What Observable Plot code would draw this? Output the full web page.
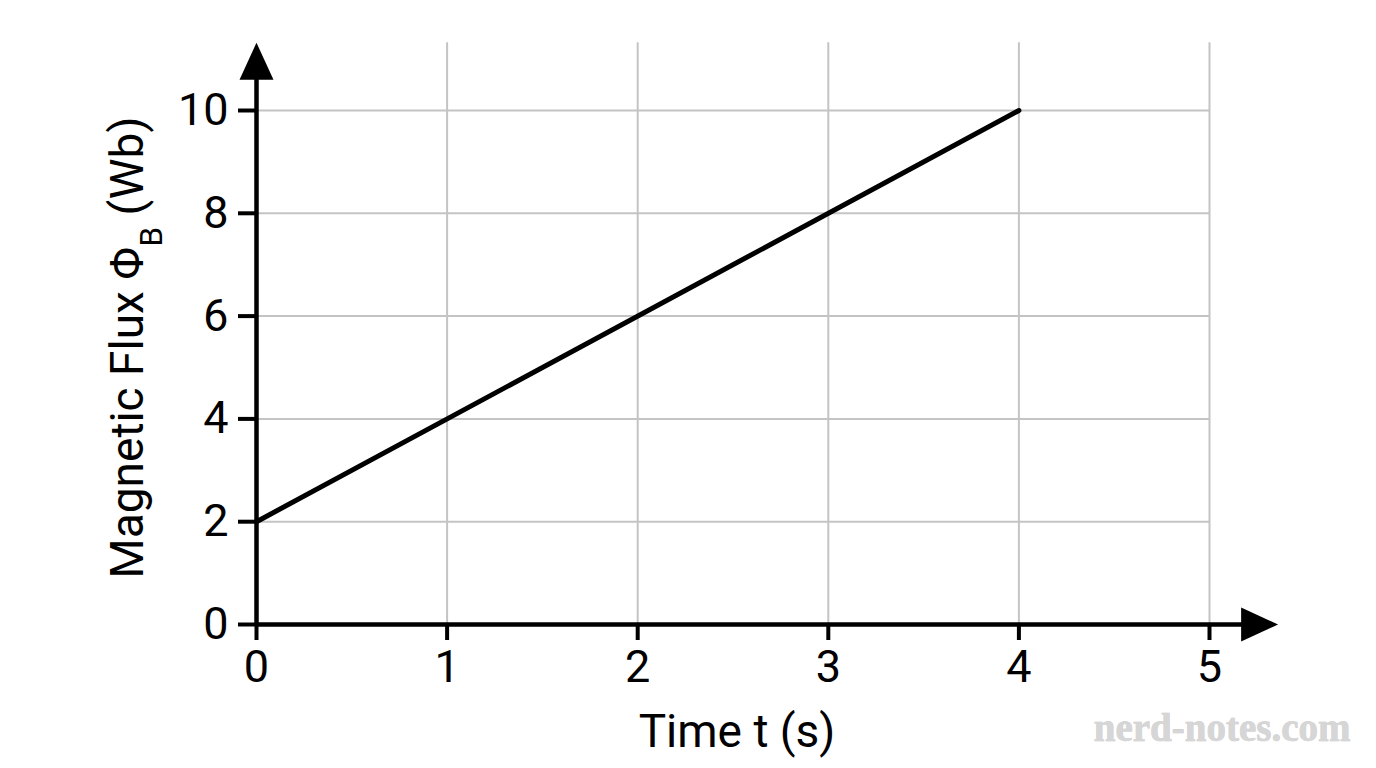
<!DOCTYPE html>
<html>
<head>
<meta charset="utf-8">
<script src="https://cdn.jsdelivr.net/npm/d3@7"></script>
<script src="https://cdn.jsdelivr.net/npm/@observablehq/plot@0.6"></script>
<style>
  html, body { margin: 0; padding: 0; background: #fff; }
  #chart svg { display: block; }
</style>
</head>
<body>
<div id="chart"></div>
<script>
// Data
const times = [0, 4];
const flux = [2, 10];
const xTicks = [0, 1, 2, 3, 4, 5];
const yTicks = [0, 2, 4, 6, 8, 10];
const xGrid = [1, 2, 3, 4, 5];
const yGrid = [2, 4, 6, 8, 10];
const xLabel = "Time t (s)";
const yLabel = "Magnetic Flux Φ_B (Wb)";
const watermark = "nerd-notes.com";
const xAxisEnd = 5.36;  // arrow tip of time axis
const yAxisEnd = 11.32; // arrow tip of flux axis

const line = times.map((t, i) => ({t, phi: flux[i]}));

const arrowHead = {
  draw(ctx) {
    ctx.moveTo(0, 0);
    ctx.lineTo(-17, 37);
    ctx.lineTo(17, 37);
    ctx.closePath();
  }
};

const font = "Roboto, 'Noto Sans', sans-serif";

const chart = Plot.plot({
  width: 1376,
  height: 768,
  marginLeft: 256,
  marginRight: 167,
  marginTop: 110,
  marginBottom: 144,
  style: {fontFamily: font, fontSize: "45px", color: "#000", background: "#fff"},
  x: {domain: [0, 5]},
  y: {domain: [0, 10]},
  marks: [
    // grid
    Plot.ruleX(xGrid, {x: d => d, y1: 0, y2: yAxisEnd, stroke: "#c4c4c4", strokeWidth: 2}),
    Plot.ruleY(yGrid, {y: d => d, x1: 0, x2: 5, stroke: "#c4c4c4", strokeWidth: 2}),
    // axes ticks + labels
    Plot.axisX(xTicks, {ticks: xTicks, tickSize: 16, tickPadding: 10, strokeWidth: 4, stroke: "#000", fontSize: 45, label: null, tickFormat: d3.format("d")}),
    Plot.axisY(yTicks, {ticks: yTicks, tickSize: 18, tickPadding: 10, strokeWidth: 4, stroke: "#000", fontSize: 45, label: null, tickFormat: d3.format("d")}),
    // axis lines
    Plot.ruleY([0], {x1: 0, x2: xAxisEnd - 0.1, stroke: "#000", strokeWidth: 4.5}),
    Plot.ruleX([0], {y1: 0, y2: yAxisEnd - 0.3, stroke: "#000", strokeWidth: 4.5}),
    // arrow heads
    Plot.dot([{x: xAxisEnd, y: 0}], {x: "x", y: "y", symbol: arrowHead, fill: "#000", stroke: "none", rotate: 90}),
    Plot.dot([{x: 0, y: yAxisEnd}], {x: "x", y: "y", symbol: arrowHead, fill: "#000", stroke: "none"}),
    // data line
    Plot.line(line, {x: "t", y: "phi", stroke: "#000", strokeWidth: 5}),
    // axis titles
    Plot.text([xLabel], {frameAnchor: "bottom", dx: 4, dy: 122, fontSize: 46, fill: "#000", textAnchor: "middle", lineAnchor: "bottom"}),
    Plot.text([yLabel], {frameAnchor: "left", dx: -128, dy: -20, rotate: -90, fontSize: 46, fill: "#000", textAnchor: "middle", lineAnchor: "middle", className: "ylabel"}),
    // watermark
    Plot.text([watermark], {frameAnchor: "bottom-right", dx: 141, dy: 116, textAnchor: "end", lineAnchor: "bottom",
      fontSize: 39, fontFamily: "'Liberation Serif', 'DejaVu Serif', serif", fontWeight: "bold", fill: "#d6d6d6", stroke: "#c2c2c2", strokeWidth: 0.6})
  ]
});

// Subscript on the flux label
d3.select(chart).selectAll("g.ylabel text").each(function() {
  const t = d3.select(this);
  const txt = t.text();
  const parts = txt.split("_");
  if (parts.length === 2) {
    t.text("");
    t.append("tspan").text(parts[0]);
    t.append("tspan").attr("baseline-shift", "sub").attr("font-size", "32").text(parts[1][0]);
    t.append("tspan").text(parts[1].slice(1));
  }
});

document.getElementById("chart").appendChild(chart);
</script>
</body>
</html>
